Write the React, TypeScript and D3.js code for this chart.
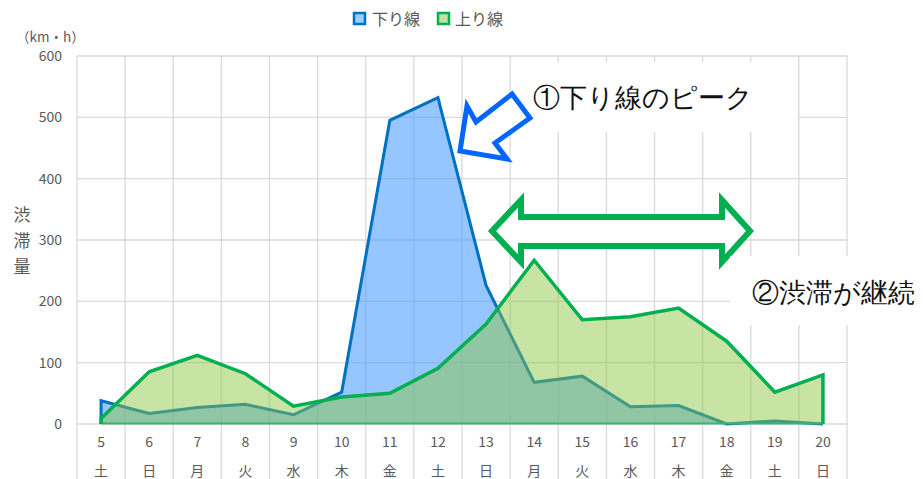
import React from 'react';
import * as d3 from 'd3';

const days = ['5', '6', '7', '8', '9', '10', '11', '12', '13', '14', '15', '16', '17', '18', '19', '20'];
const weekdays = ['土', '日', '月', '火', '水', '木', '金', '土', '日', '月', '火', '水', '木', '金', '土', '日'];
const down = [38, 17, 27, 32, 15, 52, 495, 532, 226, 68, 78, 28, 30, 0, 5, 0];
const up = [9, 85, 112, 82, 29, 44, 50, 91, 163, 267, 170, 175, 189, 135, 52, 80];
const yTicks = [0, 100, 200, 300, 400, 500, 600];

const W = 923;
const H = 479;
const font = '"Noto Sans CJK JP", "Noto Sans", sans-serif';
const gray = '#595959';
const grid = '#d9d9d9';

export default function App() {
  const x = d3.scaleBand<string>().domain(days).range([77, 847]);
  const y = d3.scaleLinear().domain([0, 600]).range([424, 56]);
  const bw = x.bandwidth();
  const cx = (i: number) => (x(days[i]) as number) + bw / 2;

  const area = d3.area<number>()
    .x((d, i) => cx(i))
    .y0(y(0))
    .y1(d => y(d));

  // outline: top edge plus the two vertical ends
  const outline = (vals: number[]) => {
    const pts: [number, number][] = [[cx(0), y(0)]];
    vals.forEach((v, i) => pts.push([cx(i), y(v)]));
    pts.push([cx(vals.length - 1), y(0)]);
    return d3.line()(pts) as string;
  };

  const t = (a: number, b: number) => `translate(${a},${b})`;
  const last = days.length - 1;

  return (
    <svg width={W} height={H} style={{ position: 'absolute', left: 0, top: 0, background: '#fff' }}>
      {/* grid */}
      <g>
        {yTicks.map(v => (
          <line key={v} x1={77} x2={847} y1={y(v)} y2={y(v)} stroke={grid} strokeWidth={1.3} />
        ))}
        {days.map(d => (
          <line key={d} x1={x(d)} x2={x(d)} y1={56} y2={H} stroke={grid} strokeWidth={1.3} />
        ))}
        <line x1={847} x2={847} y1={56} y2={H} stroke={grid} strokeWidth={1.3} />
      </g>

      {/* y axis labels */}
      <g fontFamily={font} fontSize={14} fill={gray}>
        {yTicks.map(v => (
          <text key={v} x={62} y={y(v)} dy="0.35em" textAnchor="end">{v}</text>
        ))}
        <text x={16} y={42} fontSize={13.5}>（km・h）</text>
        {['渋', '滞', '量'].map((c, i) => (
          <text key={i} x={22} y={215 + i * 26} dy="0.35em" textAnchor="middle" fontSize={17}>{c}</text>
        ))}
      </g>

      {/* x axis labels */}
      <g fontFamily={font} fontSize={14} fill={gray} textAnchor="middle">
        {days.map((d, i) => (
          <g key={d} transform={t(cx(i), 0)}>
            <text y={442} dy="0.35em">{d}</text>
            <text y={471} dy="0.35em">{weekdays[i]}</text>
          </g>
        ))}
      </g>

      {/* series */}
      <path d={area(down) as string} fill="rgb(80,160,255)" fillOpacity={0.6} />
      <path d={outline(down)} fill="none" stroke="#0070C0" strokeWidth={3} />
      <path d={area(up) as string} fill="rgb(140,198,66)" fillOpacity={0.48} />
      <line x1={cx(0)} x2={cx(last)} y1={y(0) - 0.5} y2={y(0) - 0.5} stroke="#3cb46a" strokeWidth={2} />
      <path d={outline(up)} fill="none" stroke="#00B050" strokeWidth={3.5} />

      {/* legend */}
      <g fontFamily={font} fontSize={16} fill={gray}>
        <rect x={354} y={13} width={11} height={11} fill="#99CCFF" stroke="#0070C0" strokeWidth={2.5} />
        <text x={372} y={19} dy="0.35em">下り線</text>
        <rect x={438} y={13} width={11} height={11} fill="#C5E0A5" stroke="#00B050" strokeWidth={2.5} />
        <text x={455} y={19} dy="0.35em">上り線</text>
      </g>

      {/* annotation 1 */}
      <rect x={512} y={62} width={286} height={70} fill="#fff" />
      <polygon
        points="460,151 467,106 476,122 512,94 530,118 495,143 507,159"
        fill="#fff" stroke="#0066FF" strokeWidth={5} strokeLinejoin="miter"
      />
      <text x={533} y={107} fontFamily="serif" fontSize={27} fill="#111">①下り線のピーク</text>

      {/* annotation 2 */}
      <polygon
        points="492,231 521,200 521,217 722,217 722,200 750,231 722,262 722,246 521,246 521,262"
        fill="#fff" stroke="#00B050" strokeWidth={6} strokeLinejoin="miter"
      />
      <rect x={730} y={256} width={193} height={69} fill="#fff" />
      <text x={752} y={302} fontFamily="serif" fontSize={27} fill="#111">②渋滞が継続</text>
    </svg>
  );
}
